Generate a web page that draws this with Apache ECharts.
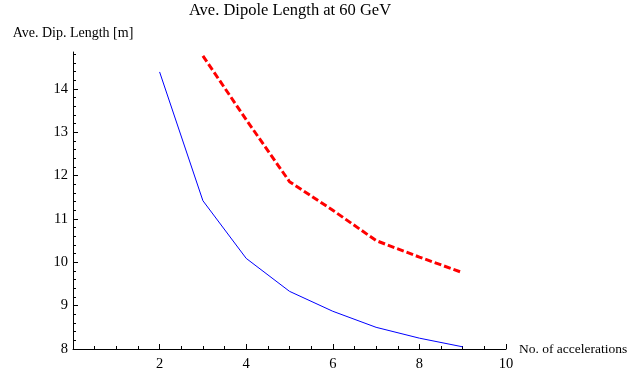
<!DOCTYPE html>
<html>
<head>
<meta charset="utf-8">
<script src="https://cdn.jsdelivr.net/npm/echarts@6/dist/echarts.min.js"></script>
<style>
  html, body { margin: 0; padding: 0; background: #fff; }
  #chart { width: 642px; height: 375px; }
</style>
</head>
<body>
<div id="chart"></div>
<script>
// Number of accelerations
const accelerations = [2, 3, 4, 5, 6, 7, 8, 9];
// Average dipole length [m], solid blue curve
const dipoleSolid = [14.39, 11.42, 10.09, 9.33, 8.87, 8.50, 8.25, 8.05];
// Average dipole length [m], dashed red curve (starts at 3 accelerations)
const dipoleDashed = [null, 14.76, 13.29, 11.86, 11.20, 10.50, 10.12, 9.76];
// Axis ticks
const yMajorTicks = [8, 9, 10, 11, 12, 13, 14];
const yMinorTicks = [];
for (let v = 8; v < 14.81; v += 0.2) {
  const r = Math.round(v * 10) / 10;
  if (!yMajorTicks.includes(r)) yMinorTicks.push(r);
}

const titleText = 'Ave. Dipole Length at 60 GeV';
const yName = 'Ave. Dip. Length [m]';
const xName = 'No. of accelerations';

const FONT = '"Liberation Serif", "Times New Roman", serif';
const chart = echarts.init(document.getElementById('chart'), null, { renderer: 'canvas' });

const solidPts = accelerations.map((x, i) => [x, dipoleSolid[i]]);
const dashedPts = accelerations.map((x, i) => [x, dipoleDashed[i]]).filter(p => p[1] !== null);

chart.setOption({
  animation: false,
  backgroundColor: '#ffffff',
  grid: { left: 73, right: 136, top: 52, bottom: 26, containLabel: false },
  graphic: [
    {
      type: 'text', x: 290, y: 2,
      style: { text: titleText, font: '16.5px ' + FONT, fill: '#000', textAlign: 'center', textVerticalAlign: 'top' }
    },
    {
      type: 'text', x: 73, y: 33,
      style: { text: yName, font: '14px ' + FONT, fill: '#000', textAlign: 'center', textVerticalAlign: 'middle' }
    }
  ],
  xAxis: {
    type: 'value', min: 0, max: 10, interval: 2,
    name: xName, nameLocation: 'end', nameGap: 13,
    nameTextStyle: { fontFamily: FONT, fontSize: 13.5, color: '#000', verticalAlign: 'middle' },
    axisLine: { onZero: false, lineStyle: { color: '#000', width: 1 } },
    axisTick: { inside: true, length: 5, lineStyle: { color: '#000' } },
    minorTick: { show: true, splitNumber: 4, length: 3, lineStyle: { color: '#000' } },
    axisLabel: {
      fontFamily: FONT, fontSize: 14.5, color: '#000', margin: 8,
      formatter: v => (v === 0 ? '' : String(v))
    },
    splitLine: { show: false }
  },
  yAxis: [
    {
      type: 'value', min: 8, max: 14.85,
      axisLine: { show: true, onZero: false, lineStyle: { color: '#000', width: 1 } },
      axisTick: { show: true, inside: true, length: 5, customValues: yMajorTicks, lineStyle: { color: '#000' } },
      axisLabel: { fontFamily: FONT, fontSize: 14.5, color: '#000', margin: 5, customValues: yMajorTicks },
      splitLine: { show: false }
    },
    {
      type: 'value', min: 8, max: 14.85, position: 'left', offset: 0,
      axisLine: { show: false },
      axisTick: { show: true, inside: true, length: 3, customValues: yMinorTicks, lineStyle: { color: '#000' } },
      axisLabel: { show: false },
      splitLine: { show: false }
    }
  ],
  series: [
    {
      type: 'line', data: solidPts, yAxisIndex: 0, symbol: 'none',
      lineStyle: { color: '#0000ff', width: 1 }
    },
    {
      type: 'line', data: dashedPts, yAxisIndex: 0, symbol: 'none',
      lineStyle: { color: '#ff0000', width: 3, type: [7, 3] }
    }
  ]
});
</script>
</body>
</html>
